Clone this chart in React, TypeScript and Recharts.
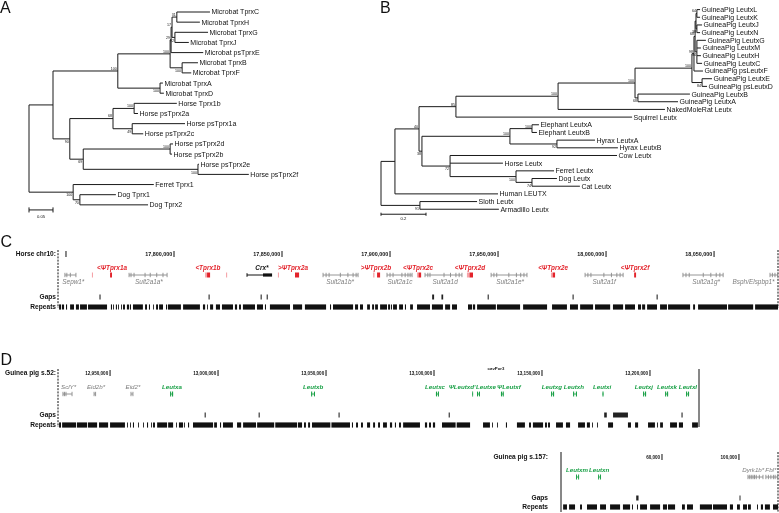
import React from 'react';
import { ScatterChart, Scatter, XAxis, YAxis, ReferenceLine, ReferenceArea } from 'recharts';

const FONT = '"Liberation Sans", Arial, Helvetica, sans-serif';
const RED = '#e3232b';
const PINK = '#f5a3a8';
const GREEN = '#19a046';
const GREY = '#7d7d7d';
const INK = '#111';

/* ================= Panel A : Tprx tree ================= */
const A_LEAVES = [
  'Microbat TprxC', 'Microbat TprxH', 'Microbat TprxG', 'Microbat TprxJ', 'Microbat psTprxE',
  'Microbat TprxB', 'Microbat TprxF', 'Microbat TprxA', 'Microbat TprxD',
  'Horse Tprx1b', 'Horse psTprx2a', 'Horse psTprx1a', 'Horse psTprx2c',
  'Horse psTprx2d', 'Horse psTprx2b', 'Horse psTprx2e', 'Horse psTprx2f',
  'Ferret Tprx1', 'Dog Tprx1', 'Dog Tprx2',
];
// [node, parent, distance from root (subst./site), bootstrap]
const A_NODES: [string, string | null, number, number | null][] = [
  ['root', null, 0, null],
  ['P', 'root', 0.05, null],
  ['M', 'P', 0.185, 100],
  ['MB', 'M', 0.294, 100],
  ['X1', 'MB', 0.296, 29],
  ['X2', 'X1', 0.298, 17],
  ['X3', 'X2', 0.308, 31],
  ['Microbat TprxC', 'X3', 0.377, null],
  ['Microbat TprxH', 'X3', 0.356, null],
  ['GJ', 'X2', 0.304, 92],
  ['Microbat TprxG', 'GJ', 0.373, null],
  ['Microbat TprxJ', 'GJ', 0.333, null],
  ['Microbat psTprxE', 'X1', 0.363, null],
  ['BF', 'MB', 0.319, 100],
  ['Microbat TprxB', 'BF', 0.352, null],
  ['Microbat TprxF', 'BF', 0.338, null],
  ['AD', 'M', 0.273, 100],
  ['Microbat TprxA', 'AD', 0.279, null],
  ['Microbat TprxD', 'AD', 0.281, null],
  ['H', 'P', 0.085, 90],
  ['H1', 'H', 0.175, 68],
  ['H1a', 'H1', 0.219, 100],
  ['Horse Tprx1b', 'H1a', 0.308, null],
  ['Horse psTprx2a', 'H1a', 0.227, null],
  ['H1b', 'H1', 0.215, 49],
  ['Horse psTprx1a', 'H1b', 0.325, null],
  ['Horse psTprx2c', 'H1b', 0.238, null],
  ['H2', 'H', 0.113, 69],
  ['H2a', 'H2', 0.294, 100],
  ['Horse psTprx2d', 'H2a', 0.3, null],
  ['Horse psTprx2b', 'H2a', 0.298, null],
  ['H2b', 'H2', 0.352, 100],
  ['Horse psTprx2e', 'H2b', 0.354, null],
  ['Horse psTprx2f', 'H2b', 0.458, null],
  ['F', 'root', 0.092, 100],
  ['Ferret Tprx1', 'F', 0.26, null],
  ['Dg', 'F', 0.106, 70],
  ['Dog Tprx1', 'Dg', 0.181, null],
  ['Dog Tprx2', 'Dg', 0.248, null],
];
const A_SCALE_BAR = 0.05;

/* ================= Panel B : Leutx tree ================= */
const B_LEAVES = [
  'GuineaPig LeutxL', 'GuineaPig LeutxK', 'GuineaPig LeutxJ', 'GuineaPig LeutxN', 'GuineaPig LeutxG',
  'GuineaPig LeutxM', 'GuineaPig LeutxH', 'GuineaPig LeutxC', 'GuineaPig psLeutxF', 'GuineaPig LeutxE',
  'GuineaPig psLeutxD', 'GuineaPig LeutxB', 'GuineaPig LeutxA', 'NakedMoleRat Leutx', 'Squirrel Leutx',
  'Elephant LeutxA', 'Elephant LeutxB', 'Hyrax LeutxA', 'Hyrax LeutxB', 'Cow Leutx', 'Horse Leutx',
  'Ferret Leutx', 'Dog Leutx', 'Cat Leutx', 'Human LEUTX', 'Sloth Leutx', 'Armadillo Leutx',
];
const B_NODES: [string, string | null, number, number | null][] = [
  ['root', null, 0, null],
  ['R1', 'root', 0.062, null],
  ['R2', 'R1', 0.169, 40],
  ['R3', 'R2', 0.333, 85],
  ['Rod', 'R3', 0.787, 100],
  ['GP', 'Rod', 1.129, 100],
  ['GPm', 'GP', 1.382, 100],
  ['G1', 'GPm', 1.391, 98],
  ['G2', 'G1', 1.396, 68],
  ['G3', 'G2', 1.4, null],
  ['LK', 'G3', 1.404, 64],
  ['GuineaPig LeutxL', 'LK', 1.418, null],
  ['GuineaPig LeutxK', 'LK', 1.418, null],
  ['JN', 'G3', 1.404, 38],
  ['GuineaPig LeutxJ', 'JN', 1.427, null],
  ['GuineaPig LeutxN', 'JN', 1.418, null],
  ['HMG', 'G2', 1.404, 34],
  ['GuineaPig LeutxG', 'HMG', 1.444, null],
  ['GuineaPig LeutxM', 'HMG', 1.422, null],
  ['GuineaPig LeutxH', 'HMG', 1.422, null],
  ['GuineaPig LeutxC', 'HMG', 1.427, null],
  ['GuineaPig psLeutxF', 'G1', 1.431, null],
  ['ED', 'GPm', 1.427, 84],
  ['GuineaPig LeutxE', 'ED', 1.471, null],
  ['GuineaPig psLeutxD', 'ED', 1.449, null],
  ['BA', 'GP', 1.142, 68],
  ['GuineaPig LeutxB', 'BA', 1.373, null],
  ['GuineaPig LeutxA', 'BA', 1.32, null],
  ['NakedMoleRat Leutx', 'Rod', 1.262, null],
  ['Squirrel Leutx', 'R3', 1.116, null],
  ['AL', 'R2', 0.182, 38],
  ['Afr', 'AL', 0.573, 100],
  ['El', 'Afr', 0.671, 100],
  ['Elephant LeutxA', 'El', 0.702, null],
  ['Elephant LeutxB', 'El', 0.693, null],
  ['Hy', 'Afr', 0.782, 92],
  ['Hyrax LeutxA', 'Hy', 0.951, null],
  ['Hyrax LeutxB', 'Hy', 1.053, null],
  ['Lau', 'AL', 0.307, 72],
  ['Cow Leutx', 'Lau', 1.049, null],
  ['Horse Leutx', 'Lau', 0.542, null],
  ['Car', 'Lau', 0.6, 100],
  ['Ferret Leutx', 'Car', 0.769, null],
  ['DC', 'Car', 0.671, 74],
  ['Dog Leutx', 'DC', 0.782, null],
  ['Cat Leutx', 'DC', 0.884, null],
  ['Human LEUTX', 'R1', 0.52, null],
  ['SA', 'root', 0.173, 91],
  ['Sloth Leutx', 'SA', 0.427, null],
  ['Armadillo Leutx', 'SA', 0.524, null],
];
const B_SCALE_BAR = 0.2;

/* ================= Panel C : Horse chr10 (kb) ================= */
const C_RANGE_KB: [number, number] = [17746.3, 18079.6];
const C_TICKS_BP = [17750000, 17800000, 17850000, 17900000, 17950000, 18000000, 18050000];
const C_TICK_LABELS = ['', '17,800,000', '17,850,000', '17,900,000', '17,950,000', '18,000,000', '18,050,000'];
const C_TPRX_NAMES: [string, number][] = [
  ['<ΨTprx1a', 17771.3], ['<Tprx1b', 17815.7], ['>ΨTprx2a', 17855.1], ['>ΨTprx2b', 17893.5],
  ['<ΨTprx2c', 17913.0], ['<ΨTprx2d', 17937.0], ['<ΨTprx2e', 17975.5], ['<ΨTprx2f', 18013.4],
];
const C_TPRX_EXONS: [number, number, 'red' | 'pink'][] = [
  [17762.0, 17762.5, 'pink'], [17770.4, 17771.3, 'red'],
  [17814.4, 17815.3, 'pink'], [17815.3, 17816.7, 'red'], [17824.1, 17824.6, 'pink'],
  [17848.1, 17848.6, 'pink'], [17856.0, 17857.9, 'red'],
  [17892.2, 17892.8, 'pink'], [17894.0, 17895.4, 'red'],
  [17912.5, 17913.2, 'pink'], [17913.2, 17914.4, 'red'],
  [17935.6, 17936.8, 'pink'], [17936.8, 17938.4, 'red'],
  [17974.5, 17975.3, 'pink'], [17975.3, 17976.4, 'red'],
  [18013.0, 18013.9, 'red'],
];
const C_CRX_LABEL: [string, number] = ['Crx*', 17840.7];
const C_CRX_INTRON: [number, number] = [17833.8, 17841.2];
const C_CRX_CODING: [number, number] = [17841.2, 17845.4];
const C_HOST_NAMES = ['Sepw1*', 'Sult2a1a*', 'Sult2a1b*', 'Sult2a1c', 'Sult2a1d', 'Sult2a1e*', 'Sult2a1f', 'Sult2a1g*', 'Bsph/Elspbp1*'];
const C_HOST_LABEL_KB = [17753.4, 17788.4, 17876.9, 17904.6, 17925.5, 17955.6, 17999.1, 18046.3, 18068.3];
const C_HOST_EXONS_KB = [
  [17749.5, 17750.4, 17752.0, 17754.6],
  [17779.2, 17780.1, 17781.5, 17786.6, 17789.0, 17792.0, 17794.9, 17796.8],
  [17869.0, 17870.4, 17871.8, 17877.0, 17880.5, 17882.9, 17884.3, 17885.2],
  [17898.6, 17900.0, 17901.4, 17905.5, 17907.0, 17908.3, 17909.3, 17910.2],
  [17916.2, 17917.5, 17918.5, 17925.0, 17928.0, 17930.5, 17932.0, 17933.3],
  [17946.8, 17948.1, 17949.4, 17955.0, 17958.5, 17960.5, 17962.0, 17963.4],
  [17990.3, 17991.6, 17993.0, 17999.0, 18002.5, 18005.0, 18006.5, 18007.9],
  [18035.6, 18037.0, 18038.5, 18045.0, 18048.5, 18051.0, 18052.7, 18054.2],
  [18075.9, 18077.0, 18078.2, 18079.4],
];
const C_GAPS: [number, number][] = [
  [17765.5, 17766.0], [17816.0, 17816.5], [17840.1, 17840.6], [17842.9, 17843.4], [17919.5, 17920.4],
  [17923.8, 17924.6], [17945.2, 17945.7], [17984.5, 17985.0], [18023.4, 18023.9],
];
const C_REPEATS: [number, number][] = [
  [17746.8, 17747.7], [17748.1, 17749.1], [17750.0, 17750.5], [17751.9, 17753.7], [17754.6, 17756.0],
  [17756.5, 17759.7], [17760.2, 17769.0], [17770.8, 17771.3], [17771.8, 17772.2], [17773.1, 17773.6],
  [17774.1, 17774.5], [17775.5, 17775.9], [17776.4, 17777.3], [17778.2, 17779.2], [17779.6, 17780.1],
  [17781.0, 17785.6], [17786.6, 17787.5], [17788.4, 17788.9], [17790.3, 17790.7], [17791.7, 17792.6],
  [17793.1, 17794.9], [17796.3, 17796.8], [17797.2, 17803.2], [17804.2, 17812.0], [17813.4, 17814.4],
  [17815.3, 17815.7], [17816.7, 17818.1], [17819.4, 17821.3], [17822.2, 17827.3], [17828.2, 17829.2],
  [17830.1, 17831.0], [17831.9, 17837.5], [17838.4, 17841.2], [17842.1, 17842.6], [17844.4, 17853.7],
  [17855.1, 17859.3], [17860.6, 17870.4], [17872.2, 17872.7], [17873.6, 17882.9], [17883.8, 17885.2],
  [17886.1, 17887.5], [17889.4, 17890.7], [17891.7, 17892.6], [17893.1, 17894.4], [17895.4, 17898.6],
  [17899.1, 17900.0], [17900.4, 17900.9], [17901.4, 17903.2], [17904.2, 17906.0], [17906.9, 17907.4],
  [17909.3, 17910.6], [17912.5, 17918.5], [17919.4, 17924.5], [17925.5, 17927.8], [17928.7, 17931.0],
  [17936.1, 17938.0], [17938.4, 17939.4], [17940.3, 17949.0], [17949.5, 17960.2], [17961.6, 17972.7],
  [17975.0, 17981.9], [17983.3, 17987.0], [17988.0, 17994.0], [17994.9, 18001.9], [18003.2, 18007.9],
  [18008.8, 18013.4], [18014.8, 18016.2], [18016.7, 18018.1], [18019.0, 18023.6], [18025.0, 18028.2],
  [18028.7, 18038.9], [18040.3, 18041.2], [18042.6, 18056.0], [18056.5, 18068.1], [18069.0, 18079.6],
];

/* ================= Panel D : Guinea pig scaffold 52 (kb) ================= */
const D1_RANGE_KB: [number, number] = [12925.9, 13222.7];
const D1_TICKS_BP = [12950000, 13000000, 13050000, 13100000, 13150000, 13200000];
const D1_ASSEMBLY: [string, number] = ['cavPor3', 13128.7];
// name, label centre, start, end (kb)
const D1_LEUTX: [string, number, number, number][] = [
  ['Leutxa', 12978.7, 12977.8, 12979.2],
  ['Leutxb', 13044.0, 13043.1, 13044.9],
  ['Leutxc', 13100.5, 13100.9, 13102.3],
  ["ΨLeutxd'", 13113.0, 13117.6, 13118.1],
  ['Leutxe', 13124.1, 13119.9, 13121.3],
  ['ΨLeutxf', 13134.7, 13131.0, 13132.3],
  ['Leutxg', 13154.6, 13154.2, 13155.6],
  ['Leutxh', 13164.8, 13164.4, 13166.2],
  ['Leutxi', 13177.8, 13178.0, 13178.5],
  ['Leutxj', 13197.2, 13196.8, 13198.2],
  ['Leutxk', 13207.9, 13207.0, 13208.4],
  ['Leutxl', 13217.6, 13216.7, 13218.1],
];
const D1_HOST: [string, number, number[]][] = [
  ['SclY*', 12930.8, [12928.2, 12928.9, 12929.6, 12932.4]],
  ['Eid2b*', 12943.5, [12942.6, 12943.3]],
  ['Eid2*', 12960.6, [12959.7, 12960.6]],
];
const D1_GAPS: [number, number][] = [
  [12993.8, 12994.3], [13018.8, 13019.3], [13055.8, 13056.3], [13106.8, 13107.3],
  [13178.8, 13180.0], [13182.9, 13189.8], [13214.6, 13215.1],
];
const D1_REPEATS: [number, number][] = [
  [12926.4, 12927.3], [12927.8, 12934.3], [12934.7, 12939.4], [12939.8, 12944.0], [12944.9, 12949.1],
  [12950.0, 12956.9], [12957.9, 12958.3], [12959.3, 12959.7], [12960.6, 12961.1], [12963.0, 12963.4],
  [12965.3, 12965.7], [12967.1, 12967.6], [12969.0, 12969.4], [12969.9, 12970.8], [12971.8, 12976.4],
  [12976.9, 12979.2], [12980.6, 12981.0], [12981.9, 12983.8], [12984.3, 12984.7], [12986.1, 12986.6],
  [12988.4, 12997.7], [12998.2, 12999.5], [13000.9, 13001.4], [13002.3, 13006.9], [13008.8, 13010.7],
  [13011.6, 13017.6], [13018.1, 13026.0], [13026.5, 13036.6], [13037.0, 13038.9], [13039.8, 13040.7],
  [13041.7, 13042.6], [13043.5, 13052.0], [13052.5, 13061.1], [13062.0, 13062.5], [13063.9, 13064.8],
  [13066.2, 13067.1], [13069.0, 13070.4], [13071.8, 13072.7], [13074.1, 13075.0], [13076.4, 13078.2],
  [13079.6, 13080.6], [13081.9, 13082.4], [13083.8, 13084.7], [13085.7, 13093.5], [13095.8, 13096.8],
  [13097.7, 13098.6], [13099.5, 13100.5], [13103.7, 13110.0], [13110.5, 13116.7], [13122.7, 13125.9],
  [13126.9, 13127.3], [13129.2, 13129.6], [13133.3, 13133.8], [13138.4, 13142.1], [13144.0, 13144.9],
  [13145.8, 13150.5], [13151.4, 13152.3], [13152.8, 13153.7], [13156.5, 13159.7], [13161.1, 13163.0],
  [13166.7, 13169.9], [13170.8, 13172.2], [13173.2, 13173.6], [13175.5, 13175.9], [13180.6, 13182.9],
  [13189.8, 13191.2], [13193.1, 13194.5], [13199.1, 13202.3], [13203.3, 13203.7], [13204.7, 13206.0],
  [13209.3, 13212.5], [13213.4, 13215.3], [13219.5, 13222.2],
];

/* ================= Panel D : Guinea pig scaffold 157 (kb) ================= */
const D2_RANGE_KB: [number, number] = [7.5, 120.3];
const D2_TICKS_BP = [60000, 100000];
const D2_LEUTX: [string, number, number, number][] = [
  ['Leutxm', 15.8, 15.3, 16.9],
  ['Leutxn', 27.3, 26.8, 28.3],
];
const D2_HOST: [string, number, number[]][] = [
  ['Dyrk1b*', 107.4, [104.7, 105.6, 106.4, 107.3, 108.1, 109.0, 110.6, 112.5]],
  ['Fbl*', 116.6, [114.0, 115.3, 116.6, 117.9, 118.8, 120.0]],
];
const D2_GAPS: [number, number][] = [[46.6, 47.8], [100.3, 100.8]];
const D2_REPEATS: [number, number][] = [
  [8.6, 10.6], [11.7, 14.8], [17.4, 18.4], [21.0, 26.2], [27.8, 30.9], [33.0, 38.2], [39.7, 43.4],
  [44.4, 44.9], [47.0, 47.5], [48.6, 52.2], [53.8, 59.0], [60.5, 62.6], [63.1, 66.8], [70.4, 71.9],
  [73.0, 76.1], [79.7, 86.0], [86.5, 93.8], [95.3, 96.9], [99.0, 100.5], [102.1, 104.2], [104.7, 106.2],
  [109.4, 109.9], [111.4, 112.5], [113.5, 116.1], [117.7, 120.3],
];

/* ================= helpers ================= */
type NodeRow = [string, string | null, number, number | null];

function layoutTree(leaves: string[], nodes: NodeRow[]) {
  const map = new Map<string, any>();
  nodes.forEach(([id, parent, depth, boot]) => map.set(id, { id, parent, depth, boot, children: [], y: NaN }));
  nodes.forEach(([id, parent]) => { if (parent) map.get(parent).children.push(map.get(id)); });
  leaves.forEach((name, i) => { map.get(name).y = i; });
  const setY = (n: any): number => {
    if (!n.children.length) return n.y;
    const ys = n.children.map(setY);
    n.y = (Math.min(...ys) + Math.max(...ys)) / 2;
    return n.y;
  };
  const rootRow = nodes.find((r) => r[1] === null)!;
  setY(map.get(rootRow[0]));
  const segs: number[][] = [];
  const tips: any[] = [];
  const boots: any[] = [];
  map.forEach((n) => {
    if (n.parent) {
      const p = map.get(n.parent);
      segs.push([p.depth, n.y, n.depth, n.y]);
    }
    if (n.children.length) {
      const ys = n.children.map((c: any) => c.y);
      segs.push([n.depth, Math.min(...ys), n.depth, Math.max(...ys)]);
    } else {
      tips.push({ x: n.depth, y: n.y, label: n.id });
    }
    if (n.boot !== null && n.parent) {
      const sib = map.get(n.parent).children.map((c: any) => c.y);
      boots.push({ x: n.depth, y: n.y, label: String(n.boot), below: n.y === Math.max(...sib) });
    }
  });
  return { segs, tips, boots };
}

type TextOpts = { fs: number; fill?: string; weight?: string; italic?: boolean; anchor?: 'start' | 'middle' | 'end'; dx?: number; dy?: number };
const makeText = (o: TextOpts) => (props: any) => {
  const { cx, cy, payload } = props;
  if (cx == null || cy == null) return <g />;
  return (
    <text
      x={cx + (o.dx ?? 0)}
      y={cy + (o.dy ?? 0)}
      dy="0.35em"
      fontSize={o.fs}
      fill={o.fill ?? INK}
      fontFamily={FONT}
      fontWeight={o.weight ?? 'normal'}
      fontStyle={o.italic ? 'italic' : 'normal'}
      textAnchor={o.anchor ?? 'middle'}
    >
      {payload.label}
    </text>
  );
};

const BootShape = (props: any) => {
  const { cx, cy, payload } = props;
  if (cx == null || cy == null) return <g />;
  return (
    <text x={cx - 1} y={payload.below ? cy + 4.2 : cy - 1.1} fontSize={3.6} fill={INK} fontFamily={FONT} textAnchor="end">
      {payload.label}
    </text>
  );
};

const makeTick = (fs: number) => (props: any) => {
  const { cx, cy, payload } = props;
  if (cx == null || cy == null) return <g />;
  return (
    <g>
      {payload.label ? (
        <text x={cx - 1.8} y={cy} dy="0.35em" fontSize={fs} fontWeight="bold" fill={INK} fontFamily={FONT} textAnchor="end">
          {payload.label}
        </text>
      ) : null}
      <line x1={cx} x2={cx} y1={cy - 3} y2={cy + 3} stroke={INK} strokeWidth={1} />
    </g>
  );
};

const seg = (key: string, x1: number, y1: number, x2: number, y2: number, stroke: string, w = 1, dash?: string) => (
  <ReferenceLine
    key={key}
    segment={[{ x: x1, y: y1 }, { x: x2, y: y2 }]}
    stroke={stroke}
    strokeWidth={w}
    strokeDasharray={dash}
    ifOverflow="visible"
  />
);

const box = (key: string, x1: number, x2: number, y1: number, y2: number, fill: string) => (
  <ReferenceArea key={key} x1={x1} x2={x2} y1={y1} y2={y2} fill={fill} fillOpacity={1} stroke="none" ifOverflow="visible" />
);

// grayscale text antialiasing, like the reference
const LAYER: React.CSSProperties = { position: 'absolute', willChange: 'transform' };

/* ================= tree chart ================= */
function TreeChart(props: {
  leaves: string[]; nodes: NodeRow[]; left: number; width: number; height: number;
  margin: { top: number; left: number; right: number; bottom: number };
  xMax: number; yMax: number; scaleBar: number; scaleLabel: string; scaleY: number; scaleTick: number; scaleLabelDy: number;
}) {
  const { segs, tips, boots } = layoutTree(props.leaves, props.nodes);
  const branchEls = segs.map((s, i) => seg('b' + i, s[0], s[1], s[2], s[3], '#1a1a1a', 1));
  const sb = props.scaleBar;
  const sy = props.scaleY;
  const st = props.scaleTick;
  const scaleEls = [
    seg('s0', 0, sy, sb, sy, '#1a1a1a', 1),
    seg('s1', 0, sy - st, 0, sy + st, '#1a1a1a', 1),
    seg('s2', sb, sy - st, sb, sy + st, '#1a1a1a', 1),
  ];
  return (
    <div style={{ ...LAYER, left: props.left, top: 0 }}>
      <ScatterChart width={props.width} height={props.height} margin={props.margin}>
        <XAxis type="number" dataKey="x" domain={[0, props.xMax]} hide />
        <YAxis type="number" dataKey="y" domain={[0, props.yMax]} reversed hide />
        {branchEls}
        {scaleEls}
        <Scatter data={tips} shape={makeText({ fs: 7, anchor: 'start', dx: 1.5 })} isAnimationActive={false} />
        <Scatter data={boots} shape={BootShape} isAnimationActive={false} />
        <Scatter
          data={[{ x: sb / 2, y: sy, label: props.scaleLabel }]}
          shape={makeText({ fs: 4.2, dy: props.scaleLabelDy })}
          isAnimationActive={false}
        />
      </ScatterChart>
    </div>
  );
}

/* ================= track chart ================= */
type Rows = { tick: number; name: number; feat: number; sub: number; gaps: number; rep: number; top: number; bottom: number };

function TrackChart(props: {
  top: number; height: number; range: [number, number]; plotLeft: number; plotRight: number;
  rows: Rows; rowLabels: [number, string][]; labelMargin: number; leftDashed: boolean; rightDashed: boolean;
  ticks: any[]; tickFs: number; children: any[];
}) {
  const { rows, range } = props;
  const labelMap = new Map(props.rowLabels.map(([v, t]) => [v, t]));
  const RowTick = (p: any) => (
    <text x={p.x} y={p.y} dy="0.35em" textAnchor="end" fontSize={6.6} fontWeight="bold" fill={INK} fontFamily={FONT}>
      {labelMap.get(p.payload.value) ?? ''}
    </text>
  );
  return (
    <div style={{ ...LAYER, left: 0, top: props.top }}>
      <ScatterChart width={779} height={props.height} margin={{ top: 0, bottom: 0, left: 0, right: 779 - props.plotRight }}>
        <XAxis type="number" dataKey="x" domain={range} hide />
        <YAxis
          type="number"
          dataKey="y"
          domain={[0, props.height]}
          reversed
          width={props.plotLeft}
          ticks={props.rowLabels.map((r) => r[0])}
          interval={0}
          axisLine={false}
          tickLine={false}
          tickSize={0}
          tickMargin={props.labelMargin}
          tick={RowTick}
        />
        {seg('edgeL', range[0], rows.top, range[0], rows.bottom, INK, 1, props.leftDashed ? '2 1.2' : undefined)}
        {seg('edgeR', range[1], rows.top, range[1], rows.bottom, INK, 1, props.rightDashed ? '2 1.2' : undefined)}
        {props.children}
        <Scatter data={props.ticks} shape={makeTick(props.tickFs)} isAnimationActive={false} />
      </ScatterChart>
    </div>
  );
}

const repeatEls = (prefix: string, list: [number, number][], row: number) =>
  list.map(([a, b], i) => box(prefix + i, a, b, row - 2.6, row + 2.6, INK));
const gapEls = (prefix: string, list: [number, number][], row: number) =>
  list.map(([a, b], i) => box(prefix + i, a, b, row - 2.5, row + 2.5, '#222'));
const hostEls = (prefix: string, list: number[][], row: number, color: string) => {
  const out: any[] = [];
  list.forEach((ex, i) => {
    out.push(seg(prefix + 'l' + i, Math.min(...ex), row, Math.max(...ex), row, color, 0.9));
    ex.forEach((e, j) => out.push(seg(prefix + 't' + i + '_' + j, e, row - 2.2, e, row + 2.2, color, 0.9)));
  });
  return out;
};
const leutxEls = (prefix: string, list: [string, number, number, number][], row: number) => {
  const out: any[] = [];
  list.forEach(([, , s, e], i) => {
    const w = Math.min(0.5, (e - s) / 2);
    out.push(box(prefix + 'a' + i, s, s + w, row - 2.4, row + 2.4, GREEN));
    out.push(box(prefix + 'b' + i, e - w, e, row - 2.4, row + 2.4, GREEN));
    out.push(seg(prefix + 'l' + i, s, row, e, row, GREEN, 0.9));
  });
  return out;
};

/* ================= App ================= */
export default function App() {
  // ---- Panel C ----
  const cRows: Rows = { tick: 6, name: 20, feat: 27, sub: 34, gaps: 49, rep: 59, top: 2, bottom: 60 };
  const cTicks = C_TICKS_BP.map((b, i) => ({ x: b / 1000, y: cRows.tick, label: C_TICK_LABELS[i] }));
  const cChildren = [
    ...repeatEls('cr', C_REPEATS, cRows.rep),
    ...gapEls('cg', C_GAPS, cRows.gaps),
    ...hostEls('ch', C_HOST_EXONS_KB, cRows.feat, '#8a8a8a'),
    ...C_TPRX_EXONS.map(([a, b, k], i) => box('ct' + i, a, b, cRows.feat - 2.5, cRows.feat + 2.5, k === 'red' ? RED : PINK)),
    seg('crxl', C_CRX_INTRON[0], cRows.feat, C_CRX_INTRON[1], cRows.feat, INK, 1),
    seg('crxt', C_CRX_INTRON[0], cRows.feat - 1.8, C_CRX_INTRON[0], cRows.feat + 1.8, INK, 1),
    box('crxc', C_CRX_CODING[0], C_CRX_CODING[1], cRows.feat - 1.6, cRows.feat + 1.6, INK),
    <Scatter
      key="cn"
      data={C_TPRX_NAMES.map(([n, x]) => ({ x, y: cRows.name, label: n }))}
      shape={makeText({ fs: 6.4, fill: RED, weight: 'bold', italic: true })}
      isAnimationActive={false}
    />,
    <Scatter
      key="cx"
      data={[{ x: C_CRX_LABEL[1], y: cRows.name, label: C_CRX_LABEL[0] }]}
      shape={makeText({ fs: 6.4, fill: INK, weight: 'bold', italic: true })}
      isAnimationActive={false}
    />,
    <Scatter
      key="cs"
      data={C_HOST_NAMES.map((n, i) => ({ x: C_HOST_LABEL_KB[i], y: cRows.sub, label: n }))}
      shape={makeText({ fs: 6.4, fill: GREY, italic: true })}
      isAnimationActive={false}
    />,
  ];

  // ---- Panel D, scaffold 52 ----
  const d1Rows: Rows = { tick: 9, name: 23, feat: 30, sub: 0, gaps: 51, rep: 61, top: 5, bottom: 63 };
  const d1Ticks = D1_TICKS_BP.map((b) => ({ x: b / 1000, y: d1Rows.tick, label: b.toLocaleString('en-US') }));
  const d1Children = [
    ...repeatEls('dr', D1_REPEATS, d1Rows.rep),
    ...gapEls('dg', D1_GAPS, d1Rows.gaps),
    ...hostEls('dh', D1_HOST.map((h) => h[2]), d1Rows.feat, '#8a8a8a'),
    ...leutxEls('dl', D1_LEUTX, d1Rows.feat),
    <Scatter
      key="dn"
      data={D1_LEUTX.map(([n, x]) => ({ x, y: d1Rows.name, label: n }))}
      shape={makeText({ fs: 6.2, fill: GREEN, weight: 'bold', italic: true })}
      isAnimationActive={false}
    />,
    <Scatter
      key="dhn"
      data={D1_HOST.map(([n, x]) => ({ x, y: d1Rows.name, label: n }))}
      shape={makeText({ fs: 6.2, fill: GREY, italic: true })}
      isAnimationActive={false}
    />,
    <Scatter
      key="dav"
      data={[{ x: D1_ASSEMBLY[1], y: 4, label: D1_ASSEMBLY[0] }]}
      shape={makeText({ fs: 4.3, weight: 'bold' })}
      isAnimationActive={false}
    />,
  ];

  // ---- Panel D, scaffold 157 ----
  const d2Rows: Rows = { tick: 9, name: 22, feat: 29, sub: 0, gaps: 50, rep: 59, top: 4, bottom: 64 };
  const d2Ticks = D2_TICKS_BP.map((b) => ({ x: b / 1000, y: d2Rows.tick, label: b.toLocaleString('en-US') }));
  const d2Children = [
    ...repeatEls('er', D2_REPEATS, d2Rows.rep),
    ...gapEls('eg', D2_GAPS, d2Rows.gaps),
    ...hostEls('eh', D2_HOST.map((h) => h[2]), d2Rows.feat, '#8a8a8a'),
    ...leutxEls('el', D2_LEUTX, d2Rows.feat),
    <Scatter
      key="en"
      data={D2_LEUTX.map(([n, x]) => ({ x, y: d2Rows.name, label: n }))}
      shape={makeText({ fs: 6.2, fill: GREEN, weight: 'bold', italic: true })}
      isAnimationActive={false}
    />,
    <Scatter
      key="ehn"
      data={D2_HOST.map(([n, x]) => ({ x, y: d2Rows.name, label: n }))}
      shape={makeText({ fs: 6.2, fill: GREY, italic: true })}
      isAnimationActive={false}
    />,
  ];

  return (
    <div style={{ position: 'absolute', left: 0, top: 0, width: 779, height: 513, background: '#fff', overflow: 'hidden' }}>
      <svg width={779} height={513} style={{ ...LAYER, left: 0, top: 0 }}>
        <g fontFamily={FONT} fontSize={16} fill={INK}>
          <text x={0} y={12.5}>A</text>
          <text x={380} y={12.5}>B</text>
          <text x={0.5} y={246.5}>C</text>
          <text x={0.5} y={364.5}>D</text>
        </g>
      </svg>

      <TreeChart
        leaves={A_LEAVES}
        nodes={A_NODES}
        left={0}
        width={370}
        height={230}
        margin={{ top: 12, left: 29, right: 53, bottom: 15 }}
        xMax={0.6}
        yMax={20}
        scaleBar={A_SCALE_BAR}
        scaleLabel="0.05"
        scaleY={19.5}
        scaleTick={0.25}
        scaleLabelDy={6.5}
      />
      <TreeChart
        leaves={B_LEAVES}
        nodes={B_NODES}
        left={380}
        width={399}
        height={230}
        margin={{ top: 9.6, left: 1, right: 38, bottom: 5.4 }}
        xMax={1.6}
        yMax={28}
        scaleBar={B_SCALE_BAR}
        scaleLabel="0.2"
        scaleY={26.65}
        scaleTick={0.2}
        scaleLabelDy={3.8}
      />

      <TrackChart
        top={248}
        height={64}
        range={C_RANGE_KB}
        plotLeft={58}
        plotRight={778}
        rows={cRows}
        rowLabels={[[cRows.tick, 'Horse chr10:'], [cRows.gaps, 'Gaps'], [cRows.rep, 'Repeats']]}
        labelMargin={2}
        leftDashed
        rightDashed
        ticks={cTicks}
        tickFs={5.4}
      >
        {cChildren}
      </TrackChart>

      <TrackChart
        top={364}
        height={66}
        range={D1_RANGE_KB}
        plotLeft={58}
        plotRight={699}
        rows={d1Rows}
        rowLabels={[[d1Rows.tick, 'Guinea pig s.52:'], [d1Rows.gaps, 'Gaps'], [d1Rows.rep, 'Repeats']]}
        labelMargin={2}
        leftDashed
        rightDashed={false}
        ticks={d1Ticks}
        tickFs={4.6}
      >
        {d1Children}
      </TrackChart>

      <TrackChart
        top={448}
        height={65}
        range={D2_RANGE_KB}
        plotLeft={561}
        plotRight={778}
        rows={d2Rows}
        rowLabels={[[d2Rows.tick, 'Guinea pig s.157:'], [d2Rows.gaps, 'Gaps'], [d2Rows.rep, 'Repeats']]}
        labelMargin={13}
        leftDashed={false}
        rightDashed
        ticks={d2Ticks}
        tickFs={4.6}
      >
        {d2Children}
      </TrackChart>
    </div>
  );
}
